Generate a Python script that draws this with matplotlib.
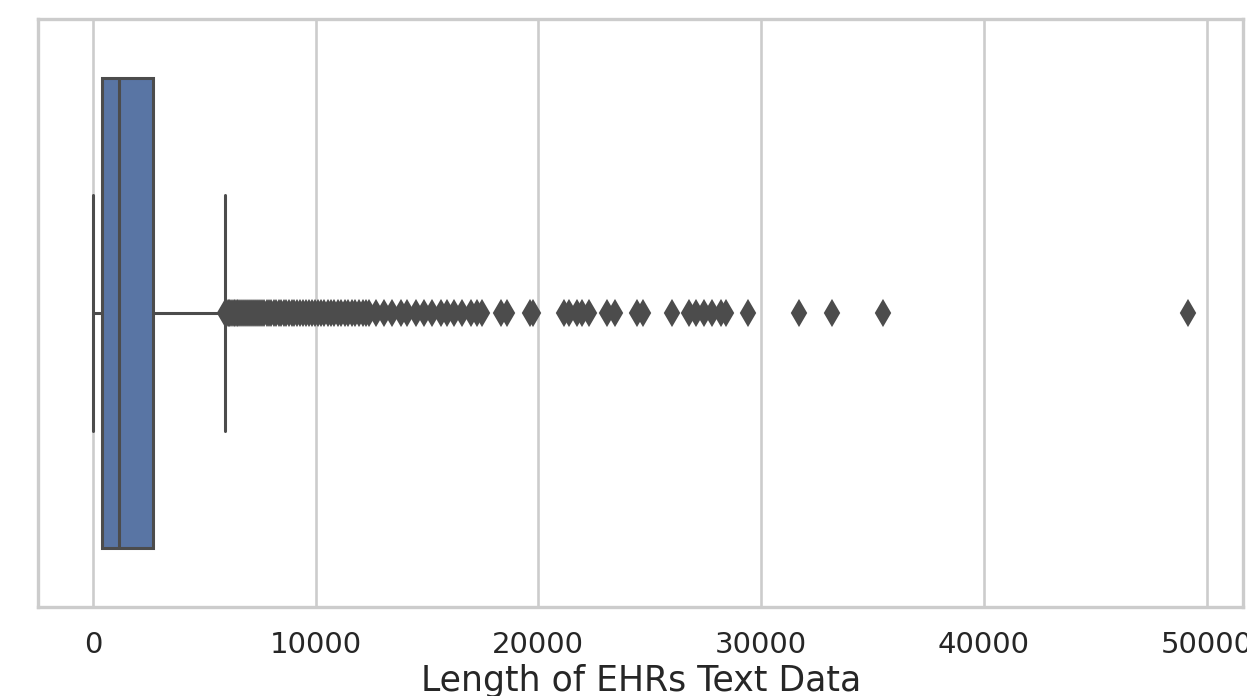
import numpy as np
import matplotlib.pyplot as plt
import seaborn as sns

sns.set_theme(style='whitegrid')
plt.rcParams['font.family'] = ['DejaVu Sans']

# box summary (characters per EHR text)
whisker_low = 0
q1 = 390
median = 1180
q3 = 2680
whisker_high = 5920

# outliers (dense run first, then the sparse tail)
outliers = [5950, 6000, 6060, 6120, 6180, 6250, 6320, 6390, 6460, 6540,
            6620, 6700, 6780, 6860, 6950, 7040, 7130, 7220, 7310, 7400,
            7500, 7600, 7700, 7800, 7900, 8010, 8120, 8230, 8340, 8450,
            8570, 8690, 8810, 8930, 9050, 9180, 9310, 9440, 9570, 9700,
            9840, 9980, 10120, 10260, 10400, 10550, 10700, 10850, 11000, 11150,
            11310, 11470, 11630, 11790, 11950, 12110, 12270, 12420,
            12735, 13093, 13452, 13855, 14125, 14528, 14887, 15246, 15650, 15918,
            16232, 16591, 16994, 17263, 17487,
            18340, 18610, 19640, 19775,
            21165, 21390, 21750, 21970, 22285,
            23090, 23450, 24440, 24710,
            26007, 26770, 27085, 27442, 27800, 28200, 28430,
            29415, 31700, 33180, 35470, 49190]

xlabel = 'Length of EHRs Text Data'
xticks = [0, 10000, 20000, 30000, 40000, 50000]

box_color = '#5975a4'
line_color = '#4c4c4c'

fig = plt.figure(figsize=(12.47, 6.96), dpi=100)
ax = fig.add_axes([0.0305, 0.128, 0.9665, 0.8447])

stats = [dict(whislo=whisker_low, q1=q1, med=median, q3=q3,
              whishi=whisker_high, fliers=np.array(outliers))]
ax.bxp(stats, positions=[0], widths=0.8, vert=False, patch_artist=True,
       boxprops=dict(facecolor=box_color, edgecolor=line_color, linewidth=2.2),
       medianprops=dict(color=line_color, linewidth=2.2),
       whiskerprops=dict(color=line_color, linewidth=2.2),
       capprops=dict(color=line_color, linewidth=2.2),
       flierprops=dict(marker='d', markersize=12, markerfacecolor=line_color,
                       markeredgecolor=line_color, markeredgewidth=1.5))

ax.set_ylim(0.5, -0.5)
ax.set_yticks([])
ax.set_xticks(xticks)
ax.set_xticklabels([str(t) for t in xticks])
ax.margins(x=0.05)
ax.tick_params(axis='x', length=0, pad=17, labelsize=21, labelcolor='#262626')
ax.set_xlabel(xlabel, fontsize=25, color='#262626', labelpad=4)
ax.grid(axis='x', color='#cccccc', linewidth=1.9)
ax.grid(axis='y', visible=False)
for s in ax.spines.values():
    s.set_color('#cccccc')
    s.set_linewidth(2.4)

fig.savefig('out.png', dpi=100)
